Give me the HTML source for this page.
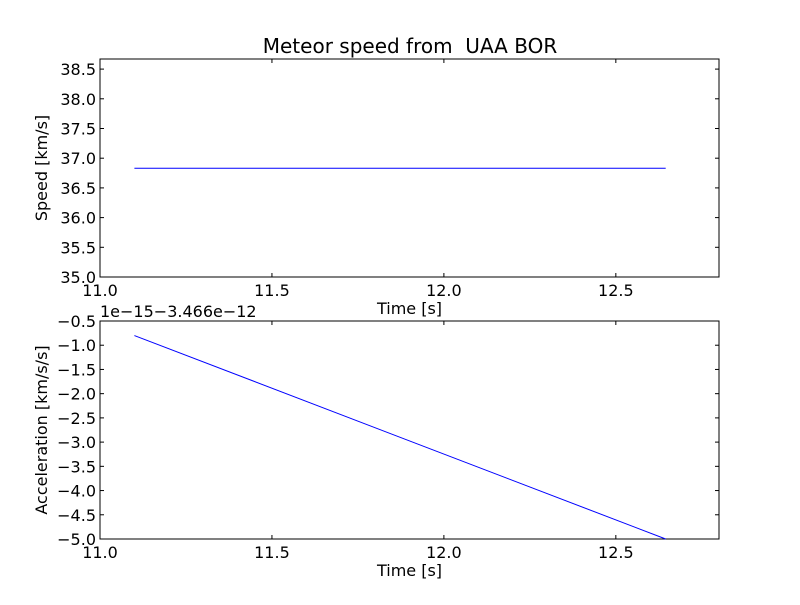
<!DOCTYPE html>
<html><head><meta charset="utf-8"><style>
body{margin:0;background:#fff}
svg text{font-family:"DejaVu Sans","Liberation Sans",sans-serif;font-size:16px;fill:#000}
</style></head><body>
<svg width="800" height="600" xmlns="http://www.w3.org/2000/svg">
<rect width="800" height="600" fill="#fff"/>
<g id="g"></g>
</svg>
<script>
const xTicks=[11.0,11.5,12.0,12.5];
const speedTicks=[35.0,35.5,36.0,36.5,37.0,37.5,38.0,38.5];
const accTicks=[-0.5,-1.0,-1.5,-2.0,-2.5,-3.0,-3.5,-4.0,-4.5,-5.0];
const times=[11.1,12.645];
const speed=[36.83,36.83];
const accel=[-0.8,-5.0];
const NS='http://www.w3.org/2000/svg';
const g=document.getElementById('g');
function mk(t,a,txt){const e=document.createElementNS(NS,t);for(const k in a)e.setAttribute(k,a[k]);if(txt!==undefined)e.textContent=txt;g.appendChild(e);return e;}
const L=100,R=719,X0=11.0,X1=12.8;
const sx=v=>L+(v-X0)/(X1-X0)*(R-L);
function panel(top,bot,y0,y1,ticks,ys,name,ylab,lineName){
  const sy=v=>bot-(v-y0)/(y1-y0)*(bot-top);
  const f=mk('rect',{x:L,y:top,width:R-L,height:bot-top,fill:'none',stroke:'#000','stroke-width':1});
  
  xTicks.forEach(t=>{const x=sx(t);
    const a=mk('line',{x1:x,x2:x,y1:bot,y2:bot-4,stroke:'#000'});
    const b=mk('line',{x1:x,x2:x,y1:top,y2:top+4,stroke:'#000'});
    const l=mk('text',{x:x,y:bot+19,'text-anchor':'middle'},t.toFixed(1));});
  ticks.forEach(t=>{const y=sy(t);
    const a=mk('line',{x1:L,x2:L+4,y1:y,y2:y,stroke:'#000'});
    const b=mk('line',{x1:R,x2:R-4,y1:y,y2:y,stroke:'#000'});
    const l=mk('text',{x:L-4,y:y+6,'text-anchor':'end'},t.toFixed(1).replace('-','\u2212'));});
  const p=mk('polyline',{points:times.map((t,i)=>sx(t)+','+sy(ys[i])).join(' '),fill:'none',stroke:'#0000ff','stroke-width':1});
  
  const xl=mk('text',{x:(L+R)/2,y:bot+37,'text-anchor':'middle'},'Time [s]');
  const cy=(top+bot)/2;
  const yl=mk('text',{x:47,y:cy,'text-anchor':'middle',transform:'rotate(-90 47 '+cy+')'},ylab);
}
panel(59,277,35.0,38.67,speedTicks,speed,'speed-panel','Speed [km/s]','speed-line');
panel(321,539,-5.0,-0.5,accTicks,accel,'accel-panel','Acceleration [km/s/s]','acceleration-line');
const t=mk('text',{x:410,y:53,'text-anchor':'middle'},'Meteor speed from  UAA BOR');t.style.fontSize='20px';t.style.whiteSpace='pre';
const o=mk('text',{x:100,y:317},'1e\u221215\u22123.466e\u221212');
</script>
</body></html>
